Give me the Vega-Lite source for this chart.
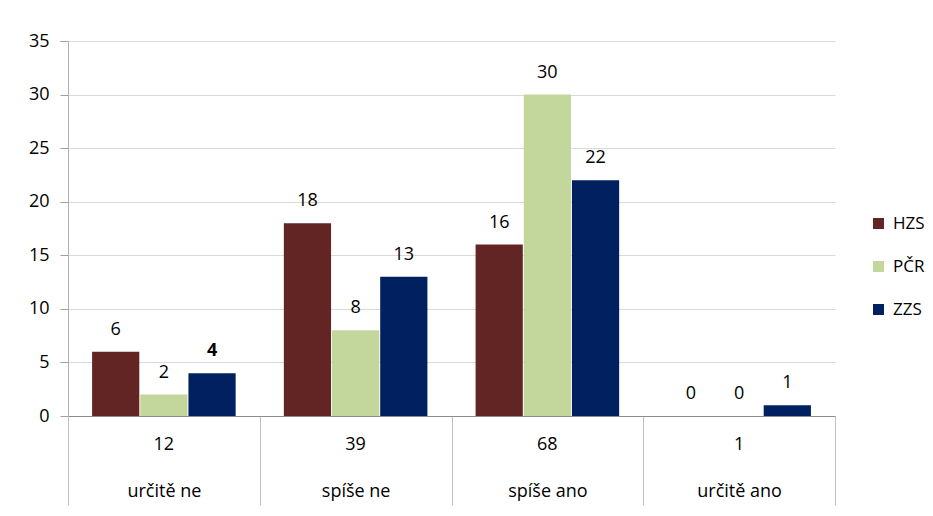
{
  "$schema": "https://vega.github.io/schema/vega-lite/v6.json",
  "width": 767,
  "height": 375,
  "autosize": {"type": "none"},
  "padding": {"left": 68, "top": 41, "right": 98, "bottom": 100},
  "background": "white",
  "config": {"view": {"stroke": null}, "font": "Open Sans"},
  "data": {
    "values": [
      {"cat": "určitě ne", "series": "HZS", "value": 6},
      {"cat": "určitě ne", "series": "PČR", "value": 2},
      {"cat": "určitě ne", "series": "ZZS", "value": 4},
      {"cat": "spíše ne", "series": "HZS", "value": 18},
      {"cat": "spíše ne", "series": "PČR", "value": 8},
      {"cat": "spíše ne", "series": "ZZS", "value": 13},
      {"cat": "spíše ano", "series": "HZS", "value": 16},
      {"cat": "spíše ano", "series": "PČR", "value": 30},
      {"cat": "spíše ano", "series": "ZZS", "value": 22},
      {"cat": "určitě ano", "series": "HZS", "value": 0},
      {"cat": "určitě ano", "series": "PČR", "value": 0},
      {"cat": "určitě ano", "series": "ZZS", "value": 1}
    ]
  },
  "encoding": {
    "x": {
      "field": "cat",
      "type": "nominal",
      "sort": null,
      "scale": {"paddingInner": 0, "paddingOuter": 0},
      "axis": {
        "title": null,
        "orient": "bottom",
        "labelAngle": 0,
        "tickBand": "extent",
        "tickSize": 89,
        "tickColor": "#c0c0c0",
        "domainColor": "#8c8c8c",
        "labelPadding": -14,
        "labelBaseline": "middle",
        "labelFontSize": 18,
        "labelColor": "#000000",
        "labelFont": "Open Sans"
      }
    }
  },
  "layer": [
    {
      "mark": {"type": "bar"},
      "encoding": {
        "xOffset": {"field": "series", "type": "nominal", "scale": {"paddingInner": 0.02, "paddingOuter": 0.5}},
        "y": {
          "field": "value",
          "type": "quantitative",
          "scale": {"domain": [0, 35], "nice": false},
          "axis": {
            "title": null,
            "values": [0, 5, 10, 15, 20, 25, 30, 35],
            "grid": true,
            "gridColor": "#d9d9d9",
            "domainColor": "#b0b0b0",
            "tickColor": "#a0a0a0",
            "tickSize": 8,
            "labelPadding": 11,
            "labelFontSize": 18,
            "labelColor": "#000000",
            "labelFont": "Open Sans"
          }
        },
        "color": {
          "field": "series",
          "type": "nominal",
          "scale": {"domain": ["HZS", "PČR", "ZZS"], "range": ["#632523", "#C3D69B", "#002060"]},
          "legend": {
            "title": null,
            "orient": "none",
            "legendX": 802,
            "legendY": 174,
            "symbolType": "square",
            "symbolSize": 121,
            "symbolStrokeWidth": 0,
            "labelFontSize": 17,
            "labelColor": "#000000",
            "labelFont": "Open Sans",
            "labelOffset": 6,
            "rowPadding": 25
          }
        }
      }
    },
    {
      "transform": [{"filter": "!(datum.cat == 'určitě ne' && datum.series == 'ZZS')"}],
      "mark": {"type": "text", "baseline": "alphabetic", "dy": -17, "fontSize": 18, "color": "#000000"},
      "encoding": {
        "xOffset": {"field": "series", "type": "nominal", "scale": {"paddingInner": 0.02, "paddingOuter": 0.5}},
        "y": {"field": "value", "type": "quantitative"},
        "text": {"field": "value", "type": "quantitative"}
      }
    },
    {
      "transform": [{"filter": "datum.cat == 'určitě ne' && datum.series == 'ZZS'"}],
      "mark": {"type": "text", "baseline": "alphabetic", "dy": -17, "fontSize": 18, "fontWeight": "bold", "color": "#000000"},
      "encoding": {
        "xOffset": {"field": "series", "type": "nominal", "scale": {"paddingInner": 0.02, "paddingOuter": 0.5}},
        "y": {"field": "value", "type": "quantitative"},
        "text": {"field": "value", "type": "quantitative"}
      }
    },
    {
      "mark": {"type": "text", "baseline": "middle", "dy": 29, "fontSize": 18, "color": "#000000", "clip": false},
      "encoding": {
        "y": {"datum": 0, "type": "quantitative"},
        "text": {"aggregate": "sum", "field": "value", "type": "quantitative"}
      }
    }
  ]
}
